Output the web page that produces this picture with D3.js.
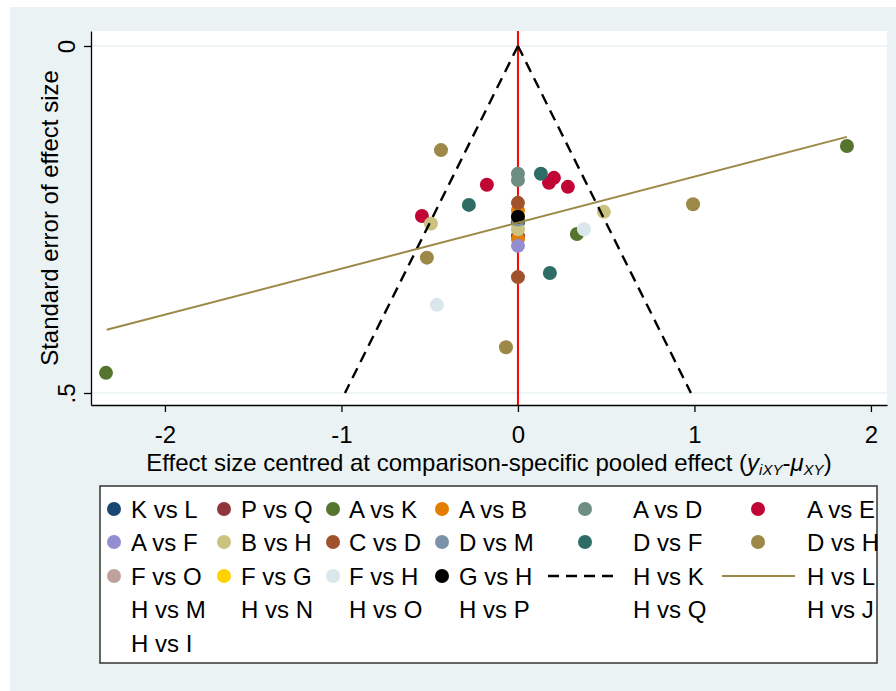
<!DOCTYPE html>
<html>
<head>
<meta charset="utf-8">
<script src="https://cdn.jsdelivr.net/npm/d3@7"></script>
<style>
  html, body { margin: 0; padding: 0; background: #ffffff; }
  svg { display: block; font-family: "Liberation Sans", Arial, sans-serif; }
</style>
</head>
<body>
<svg id="chart" width="896" height="691"></svg>
<script>
// Comparison labels (legend order = drawing order)
const comparisons = ["K vs L", "P vs Q", "A vs K", "A vs B", "A vs D", "A vs E",
  "A vs F", "B vs H", "C vs D", "D vs M", "D vs F", "D vs H",
  "F vs O", "F vs G", "F vs H", "G vs H"];
const colors = ["#1a476f", "#90353b", "#55752f", "#e37e00", "#6e8e84", "#c10534",
  "#938dd2", "#cac27e", "#a0522d", "#7b92a8", "#2d6d66", "#9c8847",
  "#bfa19c", "#ffd200", "#d9e6eb", "#000000"];

// Centred effect size (x) and its standard error (se) per study, keyed by comparison
const effectX = {
  "K vs L": [0.0],
  "P vs Q": [0.0],
  "A vs K": [1.864, -2.334, 0.334],
  "A vs B": [0.0, 0.0],
  "A vs D": [0.0, 0.0],
  "A vs E": [0.204, 0.176, 0.283, -0.176, -0.544],
  "A vs F": [0.0],
  "B vs H": [-0.493, 0.487, 0.0],
  "C vs D": [0.0, 0.0],
  "D vs M": [0.0],
  "D vs F": [0.130, -0.278, 0.181],
  "D vs H": [-0.436, 0.992, -0.516, -0.068],
  "F vs O": [0.0],
  "F vs G": [0.0],
  "F vs H": [0.374, -0.459],
  "G vs H": [0.0]
};
const effectSE = {
  "K vs L": [0.254],
  "P vs Q": [0.274],
  "A vs K": [0.144, 0.471, 0.271],
  "A vs B": [0.237, 0.278],
  "A vs D": [0.184, 0.193],
  "A vs E": [0.190, 0.197, 0.203, 0.200, 0.245],
  "A vs F": [0.288],
  "B vs H": [0.256, 0.239, 0.264],
  "C vs D": [0.226, 0.333],
  "D vs M": [0.250],
  "D vs F": [0.184, 0.229, 0.327],
  "D vs H": [0.150, 0.228, 0.305, 0.434],
  "F vs O": [0.246],
  "F vs G": [0.246],
  "F vs H": [0.264, 0.373],
  "G vs H": [0.246]
};

// Pseudo 95% confidence limits (±1.96·SE) and fitted line endpoints
const funnelSE = [0, 0.5];
const funnelZ = 1.96;
const fitX = [-2.33, 1.864];
const fitY = [0.409, 0.131];

// Axis ticks
const xTicks = [-2, -1, 0, 1, 2];
const yTicks = [0, 0.5];
const yTickLabels = ["0", ".5"];

// Legend entries, six per row
const legendItems = ["K vs L", "P vs Q", "A vs K", "A vs B", "A vs D", "A vs E",
  "A vs F", "B vs H", "C vs D", "D vs M", "D vs F", "D vs H",
  "F vs O", "F vs G", "F vs H", "G vs H", "H vs K", "H vs L",
  "H vs M", "H vs N", "H vs O", "H vs P", "H vs Q", "H vs J",
  "H vs I"];

const svg = d3.select("#chart");
const bg = "#eaf2f3";
const fontSize = 24;
const r = 7;

// graph region
svg.append("rect").attr("x", 10).attr("y", 7).attr("width", 886).attr("height", 684).attr("fill", bg);

const plot = { left: 91, right: 887, top: 31, bottom: 405 };
svg.append("rect").attr("x", plot.left).attr("y", plot.top)
  .attr("width", plot.right - plot.left).attr("height", plot.bottom - plot.top).attr("fill", "#ffffff");

const x = d3.scaleLinear().domain([-2.419, 2.091]).range([plot.left, plot.right]);
const y = d3.scaleLinear().domain([-0.0216, 0.5173]).range([plot.top, plot.bottom]);

// gridlines
svg.append("g").selectAll("line").data(yTicks).join("line")
  .attr("x1", plot.left).attr("x2", plot.right)
  .attr("y1", d => y(d)).attr("y2", d => y(d))
  .attr("stroke", bg).attr("stroke-width", 1.5);

// reference line at zero
svg.append("line").attr("x1", x(0)).attr("x2", x(0))
  .attr("y1", plot.top).attr("y2", plot.bottom)
  .attr("stroke", "#ff0000").attr("stroke-width", 2);

// study points
const points = [];
comparisons.forEach((c, i) => {
  effectX[c].forEach((v, j) => points.push({ x: v, se: effectSE[c][j], color: colors[i] }));
});
svg.append("g").selectAll("circle").data(points).join("circle")
  .attr("cx", d => x(d.x)).attr("cy", d => y(d.se)).attr("r", r)
  .attr("fill", d => d.color);

// funnel limits
const line = d3.line().x(d => x(d[0])).y(d => y(d[1]));
[-1, 1].forEach(s => {
  svg.append("path")
    .attr("d", line(funnelSE.map(se => [s * funnelZ * se, se])))
    .attr("fill", "none").attr("stroke", "#000").attr("stroke-width", 2.4)
    .attr("stroke-dasharray", "11,7");
});

// fitted line
svg.append("path")
  .attr("d", line(fitX.map((v, i) => [v, fitY[i]])))
  .attr("fill", "none").attr("stroke", "#9c8847").attr("stroke-width", 2);

// axes
const xAxis = d3.axisBottom(x).tickValues(xTicks).tickSize(7).tickSizeOuter(0).tickPadding(14)
  .tickFormat(d3.format("d"));
const gx = svg.append("g").attr("transform", `translate(0,${plot.bottom})`).call(xAxis);
gx.select(".domain").attr("stroke", "#000").attr("stroke-width", 1.3);
gx.selectAll(".tick line").attr("stroke", "#000").attr("stroke-width", 1.3);
gx.selectAll(".tick text").attr("font-size", fontSize).attr("fill", "#000")
  .attr("font-family", "Liberation Sans, Arial, sans-serif")
  .text(d => d < 0 ? "-" + Math.abs(d) : String(d));

const yAxis = d3.axisLeft(y).tickValues(yTicks).tickSize(7).tickSizeOuter(0).tickPadding(6)
  .tickFormat((d, i) => yTickLabels[i]);
const gy = svg.append("g").attr("transform", `translate(${plot.left},0)`).call(yAxis);
gy.select(".domain").attr("stroke", "#000").attr("stroke-width", 1.3);
gy.selectAll(".tick line").attr("stroke", "#000").attr("stroke-width", 1.3);
gy.selectAll(".tick text")
  .attr("font-size", fontSize).attr("fill", "#000")
  .attr("font-family", "Liberation Sans, Arial, sans-serif")
  .attr("text-anchor", "middle").attr("dy", null)
  .attr("x", null)
  .attr("transform", "translate(-16,0) rotate(-90)");

// axis titles
svg.append("text")
  .attr("transform", `translate(58,${(plot.top + plot.bottom) / 2}) rotate(-90)`)
  .attr("text-anchor", "middle").attr("font-size", fontSize).attr("fill", "#000")
  .text("Standard error of effect size");

const xt = svg.append("text")
  .attr("x", (plot.left + plot.right) / 2).attr("y", 471)
  .attr("text-anchor", "middle").attr("font-size", fontSize).attr("fill", "#000");
xt.append("tspan").text("Effect size centred at comparison-specific pooled effect (");
xt.append("tspan").attr("font-style", "italic").text("y");
xt.append("tspan").attr("font-style", "italic").attr("font-size", 15).attr("dy", 4).text("iXY");
xt.append("tspan").attr("dy", -4).text("-");
xt.append("tspan").attr("font-style", "italic").text("μ");
xt.append("tspan").attr("font-style", "italic").attr("font-size", 15).attr("dy", 4).text("XY");
xt.append("tspan").attr("dy", -4).text(")");

// legend
svg.append("rect").attr("x", 100).attr("y", 486).attr("width", 777).attr("height", 177)
  .attr("fill", "#fff").attr("stroke", "#333").attr("stroke-width", 1.5);
const keyX = [114, 224, 333, 442, 585, 758];
const textX = [131, 241, 349, 459, 633, 807];
const rowY = [509, 542, 576, 609, 643];
legendItems.forEach((label, k) => {
  const col = k % 6, row = Math.floor(k / 6);
  const cy = rowY[row];
  const ci = comparisons.indexOf(label);
  if (ci >= 0) {
    svg.append("circle").attr("cx", keyX[col]).attr("cy", cy).attr("r", r).attr("fill", colors[ci]);
  } else if (label === "H vs K") {
    svg.append("line").attr("x1", 548).attr("x2", 620).attr("y1", cy).attr("y2", cy)
      .attr("stroke", "#000").attr("stroke-width", 2.4).attr("stroke-dasharray", "11,7");
  } else if (label === "H vs L") {
    svg.append("line").attr("x1", 722).attr("x2", 795).attr("y1", cy).attr("y2", cy)
      .attr("stroke", "#9c8847").attr("stroke-width", 2);
  }
  svg.append("text").attr("x", textX[col]).attr("y", cy).attr("dy", "0.36em")
    .attr("font-size", fontSize).attr("fill", "#000").text(label);
});
</script>
</body>
</html>
